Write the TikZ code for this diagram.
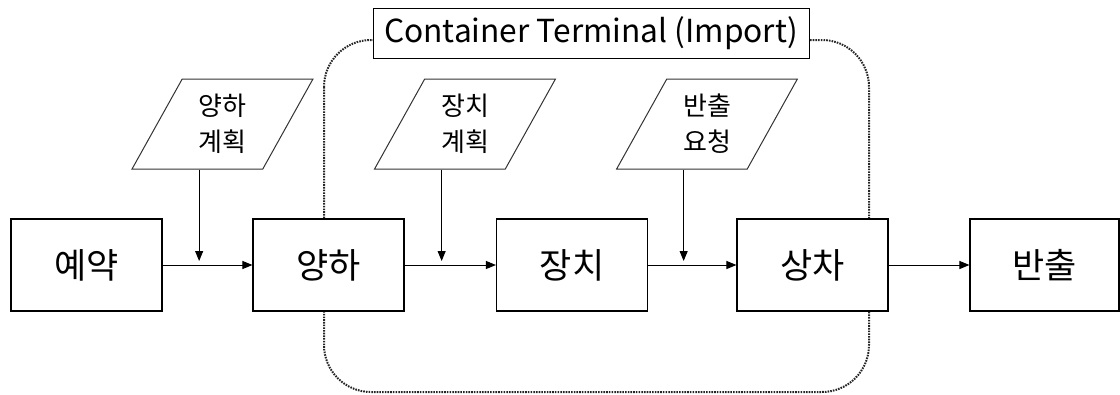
\documentclass[tikz,border=0pt]{standalone}
\usepackage{fontspec}
\setmainfont{Noto Sans CJK KR}
\usetikzlibrary{shapes.geometric,arrows.meta,calc}
\begin{document}
\begin{tikzpicture}[x=1pt,y=-1pt,
  stage/.style={draw, fill=white, line width=1.1pt, minimum width=151pt,
    minimum height=92pt, inner sep=0pt, font=\fontsize{35}{40}\selectfont},
  plan/.style={trapezium, trapezium left angle=63.43, trapezium right angle=116.57,
    trapezium stretches=true, draw=black!80, line width=1pt, fill=white,
    minimum width=181pt, minimum height=90pt, inner sep=0pt, align=center,
    font=\fontsize{26}{36}\selectfont},
  flow/.style={-{Triangle[length=10pt,width=8pt]}, line width=1pt},
  feed/.style={flow, shorten >=4pt},
  frame/.style={draw=black!85, line width=2pt, dash pattern=on 1.6pt off 1.1pt,
    rounded corners=47pt},
  titlebox/.style={draw, fill=white, line width=1pt, minimum width=436pt,
    minimum height=50pt, inner sep=0pt, font=\fontsize{31.7}{36}\selectfont}]
\useasboundingbox (0,0) rectangle (1120,394);

% terminal boundary
\draw[frame] (324,40) rectangle (869,392);
\node[titlebox] (title) at (591,33) {Container Terminal (Import)};

% process stages
\node[stage] (s1) at (86.5,265) {예약};
\node[stage] (s2) at (328.5,265) {양하};
\node[stage] (s3) at (572,265) {장치};
\node[stage] (s4) at (812.5,265) {상차};
\node[stage, minimum width=149pt] (s5) at (1044.5,265) {반출};

% planning inputs
\node[plan] (p1) at (222.5,124) {양하\\계획};
\node[plan] (p2) at (465,124) {장치\\계획};
\node[plan] (p3) at (707,124) {반출\\요청};

% flow between stages
\draw[flow] (s1) -- (s2);
\draw[flow] (s2) -- (s3);
\draw[flow] (s3) -- (s4);
\draw[flow] (s4) -- (s5);

% inputs dropping onto the flow
\draw[feed] ([xshift=2pt]p1.bottom side) -- ([xshift=2pt]p1.bottom side |- s1.east);
\draw[feed] ([xshift=2pt]p2.bottom side) -- ([xshift=2pt]p2.bottom side |- s2.east);
\draw[feed] ([xshift=2pt]p3.bottom side) -- ([xshift=2pt]p3.bottom side |- s3.east);
\end{tikzpicture}
\end{document}
